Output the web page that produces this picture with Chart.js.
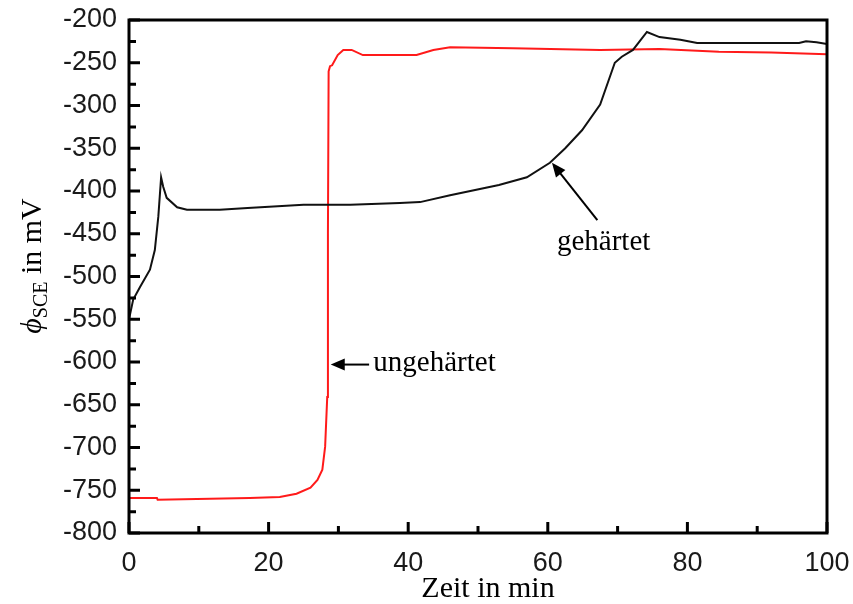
<!DOCTYPE html>
<html>
<head>
<meta charset="utf-8">
<script src="https://cdn.jsdelivr.net/npm/chart.js@4.4.1/dist/chart.umd.min.js"></script>
<style>
  html, body { margin: 0; padding: 0; background: #fff; }
  #wrap { width: 853px; height: 604px; }
</style>
</head>
<body>
<div id="wrap"><canvas id="potChart" width="853" height="604"></canvas></div>
<script>
// Zeit in min / Potential in mV
const gehaertetT = [0, 0.6, 1.6, 3, 3.7, 4.2, 4.6, 4.9, 5.4, 6.9, 8.3, 13, 17, 25, 31.7, 38.8, 41.7, 46, 53, 57, 60.3, 62.5, 64.9, 67.5, 69.6, 70.6, 72.2, 74.2, 76, 79, 81.4, 90, 96, 97, 98.5, 100];
const gehaertetV = [-550, -527, -512, -492, -469, -430, -384, -395, -408, -419, -422, -422, -420, -416, -416, -414, -413, -405, -393, -384, -367, -350, -329, -299, -250, -243, -235, -214, -220, -223, -227, -227, -227, -225, -226, -228];

const ungehaertetT = [0, 4, 4.1, 17.3, 21.6, 24, 26, 27, 27.7, 28.1, 28.4, 28.5, 28.6, 28.8, 29.1, 29.9, 30.7, 31.9, 33.5, 41.2, 43.6, 46, 55, 67.5, 76, 84.5, 92, 100];
const ungehaertetV = [-759, -759, -761, -759, -758, -754, -747, -738, -726, -699, -641, -450, -260, -254, -253, -241, -235, -235, -241, -241, -235, -232, -233, -235, -234, -237, -238, -240];

const xTicks = [0, 20, 40, 60, 80, 100];
const yTicks = [-800, -750, -700, -650, -600, -550, -500, -450, -400, -350, -300, -250, -200];

const toPoints = (ts, vs) => ts.map((t, i) => ({ x: t, y: vs[i] }));

// Pfeil mit gefüllter Spitze
function arrow(ctx, x1, y1, x2, y2) {
    const ang = Math.atan2(y2 - y1, x2 - x1);
    const len = 14, half = 6;
    ctx.beginPath();
    ctx.moveTo(x1, y1);
    ctx.lineTo(x2 - Math.cos(ang) * len * 0.8, y2 - Math.sin(ang) * len * 0.8);
    ctx.stroke();
    ctx.beginPath();
    ctx.moveTo(x2, y2);
    ctx.lineTo(x2 - Math.cos(ang) * len - Math.sin(ang) * half, y2 - Math.sin(ang) * len + Math.cos(ang) * half);
    ctx.lineTo(x2 - Math.cos(ang) * len + Math.sin(ang) * half, y2 - Math.sin(ang) * len - Math.cos(ang) * half);
    ctx.closePath();
    ctx.fill();
}

const decorPlugin = {
    id: 'decor',
    afterDraw(chart) {
        const { ctx, chartArea: a, scales: { x, y } } = chart;
        ctx.save();
        ctx.strokeStyle = '#000';
        ctx.fillStyle = '#000';

        // Rahmen
        ctx.lineWidth = 3;
        ctx.strokeRect(a.left, a.top, a.right - a.left, a.bottom - a.top);

        // Ticks nach innen
        ctx.lineWidth = 3;
        ctx.beginPath();
        for (let v = -800; v <= -200; v += 25) {
            const py = y.getPixelForValue(v);
            const l = (v % 50 === 0) ? 11 : 7;
            ctx.moveTo(a.left, py);
            ctx.lineTo(a.left + l, py);
        }
        for (let t = 0; t <= 100; t += 10) {
            const px = x.getPixelForValue(t);
            const l = (t % 20 === 0) ? 11 : 7;
            ctx.moveTo(px, a.bottom);
            ctx.lineTo(px, a.bottom - l);
        }
        ctx.stroke();

        // Annotationen
        ctx.lineWidth = 2;
        arrow(ctx, x.getPixelForValue(34.4), y.getPixelForValue(-603), x.getPixelForValue(28.9), y.getPixelForValue(-603));
        arrow(ctx, x.getPixelForValue(67.1), y.getPixelForValue(-434), x.getPixelForValue(60.6), y.getPixelForValue(-367));

        ctx.font = '29px "Liberation Serif", "Times New Roman", serif';
        ctx.textBaseline = 'alphabetic';
        ctx.textAlign = 'left';
        ctx.fillText('ungehärtet', x.getPixelForValue(35), y.getPixelForValue(-610));
        ctx.textAlign = 'center';
        ctx.fillText('gehärtet', x.getPixelForValue(68), y.getPixelForValue(-469));

        // x-Achsentitel
        ctx.font = '30px "Liberation Serif", "Times New Roman", serif';
        ctx.fillText('Zeit in min', 488, 597);

        // y-Achsentitel mit Index
        ctx.translate(41, 266);
        ctx.rotate(-Math.PI / 2);
        const fMain = 'italic 30px "Liberation Serif", serif';
        const fSub = '20px "Liberation Serif", serif';
        const fRest = '30px "Liberation Serif", serif';
        ctx.font = fMain; const w1 = ctx.measureText('\u03D5').width;
        ctx.font = fSub; const w2 = ctx.measureText('SCE').width;
        ctx.font = fRest; const w3 = ctx.measureText(' in mV').width;
        let cx = -(w1 + w2 + w3) / 2;
        ctx.textAlign = 'left';
        ctx.font = fMain; ctx.fillText('\u03D5', cx, 0); cx += w1;
        ctx.font = fSub; ctx.fillText('SCE', cx, 6); cx += w2;
        ctx.font = fRest; ctx.fillText(' in mV', cx, 0);

        ctx.restore();
    }
};

new Chart(document.getElementById('potChart'), {
    type: 'line',
    data: {
        datasets: [{
            label: 'gehärtet',
            data: toPoints(gehaertetT, gehaertetV),
            borderColor: '#111',
            borderWidth: 2,
            pointRadius: 0,
            tension: 0
        }, {
            label: 'ungehärtet',
            data: toPoints(ungehaertetT, ungehaertetV),
            borderColor: '#ff1a1a',
            borderWidth: 2,
            pointRadius: 0,
            tension: 0
        }]
    },
    options: {
        responsive: false,
        animation: false,
        layout: { padding: { top: 20, right: 26, left: 0, bottom: 0 } },
        plugins: {
            legend: { display: false },
            tooltip: { enabled: false }
        },
        scales: {
            x: {
                type: 'linear',
                min: 0,
                max: 100,
                afterFit: (s) => { s.height = 71; s.paddingLeft = 0; s.paddingRight = 0; },
                afterBuildTicks: (s) => { s.ticks = xTicks.map(v => ({ value: v })); },
                grid: { display: true, drawOnChartArea: false, drawTicks: false },
                border: { display: false },
                ticks: {
                    padding: 14,
                    color: '#1a1a1a',
                    maxRotation: 0,
                    font: { family: '"Liberation Sans", Arial, sans-serif', size: 27 }
                }
            },
            y: {
                type: 'linear',
                min: -800,
                max: -200,
                afterFit: (s) => { s.width = 129; s.paddingTop = 0; s.paddingBottom = 0; },
                afterBuildTicks: (s) => { s.ticks = yTicks.map(v => ({ value: v })); },
                grid: { display: true, drawOnChartArea: false, drawTicks: false },
                border: { display: false },
                ticks: {
                    padding: 12,
                    color: '#1a1a1a',
                    font: { family: '"Liberation Sans", Arial, sans-serif', size: 27 }
                }
            }
        }
    },
    plugins: [decorPlugin]
});
</script>
</body>
</html>
